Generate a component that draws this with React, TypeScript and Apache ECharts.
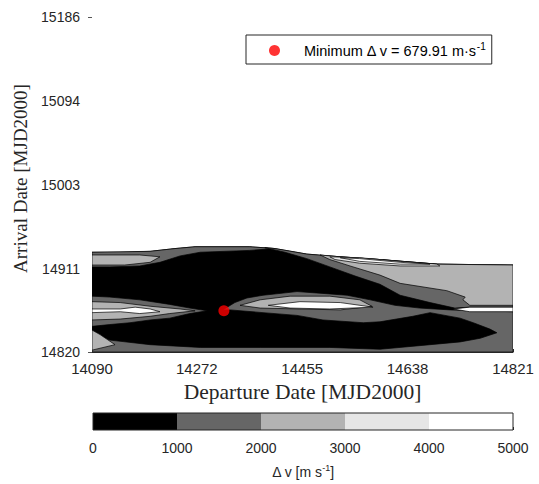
import { useEffect, useRef } from "react";
import * as echarts from "echarts";

type Pt = [number, number];

// Axis ticks (MJD2000 days)
const xTicks = [14090, 14272, 14455, 14638, 14821];
const yTicks = [14820, 14911, 15003, 15094, 15186];
const yTickMarks = [14820, 15186];

// Contour levels of delta-v [m/s] and their fills
const levelEdges = [0, 1000, 2000, 3000, 4000, 5000];
const levelColors = ["#000000", "#666666", "#b3b3b3", "#e6e6e6", "#ffffff"];

// Minimum delta-v transfer
const minDeparture = 14319;
const minArrival = 14865;
const minDeltaV = 679.91;

// Contour band outlines as (departure, arrival) pairs.
// Searched grid (0 - 1000 m/s fill underneath everything else)
const gridOutline: Pt[] = [
  [14090, 14929], [14139, 14929], [14191, 14930], [14234, 14933], [14269, 14935],
  [14364, 14935], [14408, 14933], [14463, 14927], [14521, 14924], [14590, 14921],
  [14689, 14916], [14821, 14915], [14821, 14820], [14090, 14820],
];

// 1000 - 2000 m/s
const upperLeft1000: Pt[] = [
  [14090, 14929], [14191, 14930], [14234, 14933], [14269, 14935], [14364, 14935],
  [14408, 14933], [14364, 14931], [14278, 14929], [14243, 14925], [14208, 14918],
  [14173, 14914], [14121, 14913], [14090, 14913],
];
const upperRight1000: Pt[] = [
  [14390, 14934], [14408, 14933], [14463, 14927], [14521, 14924], [14590, 14921],
  [14689, 14916], [14821, 14915], [14821, 14869], [14746, 14869], [14720, 14868],
  [14677, 14874], [14625, 14882], [14590, 14894], [14547, 14903], [14503, 14913],
  [14463, 14922], [14425, 14929], [14390, 14934],
];
const middleLower1000: Pt[] = [
  [14317, 14866], [14338, 14874], [14359, 14879], [14387, 14882], [14446, 14886],
  [14491, 14884], [14533, 14882], [14573, 14877], [14616, 14871], [14659, 14868],
  [14712, 14866], [14821, 14864], [14821, 14820], [14090, 14820], [14090, 14841],
  [14121, 14833], [14191, 14828], [14278, 14825], [14382, 14825], [14503, 14825],
  [14590, 14823], [14677, 14828], [14729, 14831], [14764, 14835], [14793, 14841],
  [14781, 14845], [14752, 14852], [14729, 14857], [14677, 14863], [14647, 14859],
  [14590, 14853], [14561, 14852], [14491, 14855], [14446, 14860], [14387, 14863],
  [14330, 14866],
];
const left1000: Pt[] = [
  [14090, 14881], [14121, 14880], [14173, 14877], [14225, 14872], [14260, 14868],
  [14290, 14865], [14260, 14862], [14225, 14857], [14191, 14855], [14156, 14852],
  [14121, 14850], [14090, 14848],
];

// 2000 - 3000 m/s
const upperLeft2000: Pt[] = [
  [14090, 14926], [14173, 14926], [14208, 14924], [14191, 14918], [14147, 14915],
  [14090, 14915],
];
const upperRight2000: Pt[] = [
  [14486, 14926], [14521, 14924], [14590, 14921], [14689, 14916], [14821, 14915],
  [14821, 14871], [14746, 14871], [14734, 14877], [14738, 14880], [14706, 14887],
  [14625, 14895], [14590, 14904], [14538, 14914], [14503, 14921],
];
const middle2000: Pt[] = [
  [14347, 14871], [14382, 14877], [14434, 14881], [14503, 14881], [14555, 14877],
  [14576, 14870], [14521, 14866], [14451, 14867], [14382, 14868],
];
const left2000: Pt[] = [
  [14090, 14875], [14139, 14874], [14191, 14870], [14243, 14867], [14269, 14865],
  [14225, 14862], [14191, 14859], [14139, 14856], [14090, 14855],
];
const corner2000: Pt[] = [
  [14090, 14844], [14104, 14839], [14130, 14828], [14090, 14822],
];

// 3000 - 4000 m/s
const upperRight3000: Pt[] = [
  [14503, 14924], [14555, 14923], [14625, 14919], [14689, 14916], [14694, 14914],
  [14625, 14914], [14555, 14917], [14512, 14921],
];

// 4000 - 5000 m/s
const upperRight4000: Pt[] = [
  [14521, 14923], [14555, 14922], [14625, 14918], [14677, 14916], [14625, 14916],
  [14555, 14919],
];
const right4000: Pt[] = [
  [14717, 14867], [14746, 14869], [14821, 14869], [14821, 14864], [14746, 14864],
];
const middle4000: Pt[] = [
  [14396, 14871], [14451, 14875], [14521, 14874], [14578, 14869], [14503, 14867],
  [14434, 14868],
];
const left4000: Pt[] = [
  [14090, 14867], [14139, 14867], [14165, 14869], [14191, 14867], [14208, 14864],
  [14173, 14862], [14139, 14864], [14090, 14863],
];

// Draw order: lower bands first, higher bands on top
const regions: { band: number; pts: Pt[] }[] = [
  { band: 0, pts: gridOutline },
  { band: 1, pts: upperLeft1000 },
  { band: 1, pts: upperRight1000 },
  { band: 1, pts: middleLower1000 },
  { band: 1, pts: left1000 },
  { band: 2, pts: upperLeft2000 },
  { band: 2, pts: upperRight2000 },
  { band: 2, pts: middle2000 },
  { band: 2, pts: left2000 },
  { band: 2, pts: corner2000 },
  { band: 3, pts: upperRight3000 },
  { band: 4, pts: upperRight4000 },
  { band: 4, pts: right4000 },
  { band: 4, pts: middle4000 },
  { band: 4, pts: left4000 },
];

const TEXT = "#262626";
const SANS = "Liberation Sans, Arial, sans-serif";
const SERIF = "Liberation Serif, Times New Roman, serif";

const legendName = "Minimum Δ v = " + minDeltaV.toFixed(2) + " m·s";

export default function App() {
  const ref = useRef<HTMLDivElement>(null);

  useEffect(() => {
    if (!ref.current) return;
    const chart = echarts.init(ref.current, undefined, { renderer: "svg" });

    const bandData = levelEdges.slice(0, -1).map((lo, i) => [lo, levelEdges[i + 1], i]);
    bandData.push([levelEdges[0], levelEdges[levelEdges.length - 1], -1]);

    chart.setOption({
      animation: false,
      backgroundColor: "#ffffff",
      grid: [
        { left: 92, right: 26, top: 17, bottom: 132 },
        { left: 93, right: 26, top: 413, height: 17 },
      ],
      legend: {
        data: [{ name: legendName, icon: "circle" }],
        left: 246,
        top: 35,
        padding: [6, 6, 6, 23],
        borderColor: TEXT,
        borderWidth: 1,
        itemWidth: 11,
        itemHeight: 11,
        itemGap: 0,
        selectedMode: false,
        formatter: (n: string) => n + "{sup|-1}",
        textStyle: {
          fontFamily: SANS,
          fontSize: 14.5,
          color: "#000",
          padding: [0, 0, 0, 19],
          rich: { sup: { fontFamily: SANS, fontSize: 10, padding: [0, 0, 9, 0], color: "#000" } },
        },
      },
      xAxis: [
        {
          gridIndex: 0,
          type: "value",
          min: xTicks[0],
          max: xTicks[xTicks.length - 1],
          axisLine: { show: true, lineStyle: { color: TEXT, width: 1 } },
          axisTick: { show: true, inside: true, length: 3, customValues: xTicks, lineStyle: { color: TEXT } },
          axisLabel: {
            customValues: xTicks,
            formatter: (v: number) => String(Math.round(v)),
            fontFamily: SANS,
            fontSize: 15,
            color: TEXT,
            margin: 9,
          },
          splitLine: { show: false },
          name: "Departure Date [MJD2000]",
          nameLocation: "middle",
          nameGap: 26,
          nameTextStyle: { fontFamily: SERIF, fontSize: 21.5, color: TEXT },
        },
        {
          gridIndex: 1,
          type: "value",
          min: levelEdges[0],
          max: levelEdges[levelEdges.length - 1],
          interval: 1000,
          axisLine: { show: false },
          axisTick: { show: true, inside: true, length: 3, lineStyle: { color: TEXT } },
          axisLabel: {
            fontFamily: SANS,
            fontSize: 14,
            color: TEXT,
            margin: 11,
            formatter: (v: number) => String(v),
          },
          splitLine: { show: false },
          name: "Δ v [m s{sup|-1}]",
          nameLocation: "middle",
          nameGap: 33,
          nameTextStyle: {
            fontFamily: SANS,
            fontSize: 14,
            color: TEXT,
            rich: { sup: { fontFamily: SANS, fontSize: 9, padding: [0, 0, 8, 0], color: TEXT } },
          },
        },
      ],
      yAxis: [
        {
          gridIndex: 0,
          type: "value",
          min: yTicks[0],
          max: yTicks[yTicks.length - 1],
          axisLine: { show: false },
          axisTick: { show: true, length: 4, customValues: yTickMarks, lineStyle: { color: "#555" } },
          axisLabel: {
            customValues: yTicks,
            formatter: (v: number) => String(Math.round(v)),
            fontFamily: SANS,
            fontSize: 14,
            color: TEXT,
            margin: 12,
          },
          splitLine: { show: false },
          name: "Arrival Date [MJD2000]",
          nameLocation: "middle",
          nameGap: 58,
          nameTextStyle: { fontFamily: SERIF, fontSize: 19, color: TEXT, padding: [0, 0, 0, 12] },
        },
        {
          gridIndex: 1,
          type: "value",
          min: 0,
          max: 1,
          show: false,
        },
      ],
      series: [
        {
          type: "custom",
          name: "contours",
          xAxisIndex: 0,
          yAxisIndex: 0,
          clip: true,
          data: regions.map((r, i) => [r.pts[0][0], r.pts[0][1], i]),
          encode: { x: 0, y: 1 },
          renderItem: (params: any, api: any) => {
            const r = regions[params.dataIndex];
            const points = r.pts.map((p) => api.coord(p));
            return {
              type: "polygon",
              shape: { points },
              style: { fill: levelColors[r.band], stroke: "#000", lineWidth: 0.7 },
            };
          },
        },
        {
          type: "scatter",
          name: legendName,
          xAxisIndex: 0,
          yAxisIndex: 0,
          symbol: "circle",
          symbolSize: 11,
          itemStyle: { color: "#ff0000" },
          data: [[minDeparture, minArrival]],
          z: 5,
        },
        {
          type: "custom",
          name: "colorbar",
          xAxisIndex: 1,
          yAxisIndex: 1,
          data: bandData,
          encode: { x: [0, 1] },
          renderItem: (params: any, api: any) => {
            const lo = api.value(0);
            const hi = api.value(1);
            const idx = api.value(2);
            const a = api.coord([lo, 0]);
            const b = api.coord([hi, 1]);
            const shape = { x: a[0], y: b[1], width: b[0] - a[0], height: a[1] - b[1] };
            if (idx < 0) {
              return { type: "rect", shape, style: { fill: "none", stroke: TEXT, lineWidth: 1 }, z2: 10 };
            }
            return { type: "rect", shape, style: { fill: levelColors[idx] } };
          },
        },
      ],
    });

    return () => chart.dispose();
  }, []);

  return <div ref={ref} style={{ width: 539, height: 484, position: "absolute", left: 0, top: 0 }} />;
}
